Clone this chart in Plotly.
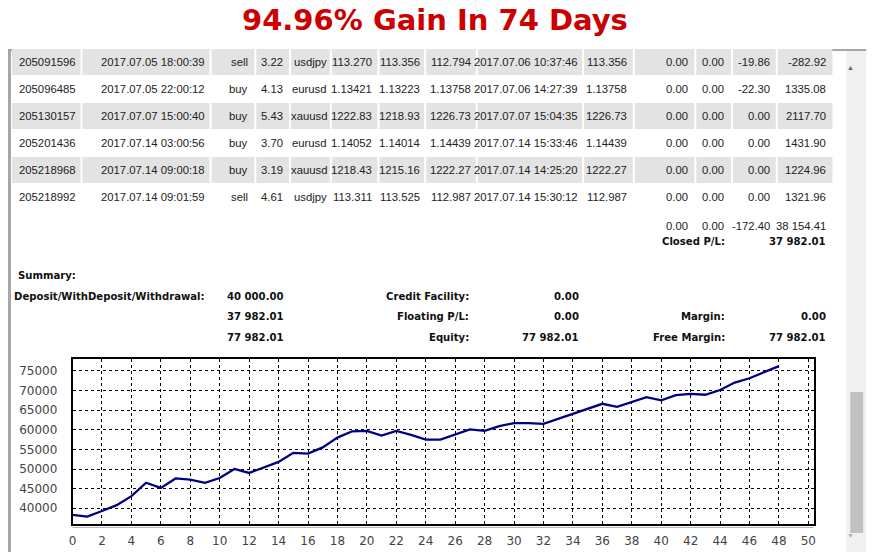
import plotly.graph_objects as go

W, H = 893, 552

# ---- trade table (last rows of the statement) ----
tickets = ["205091596", "205096485", "205130157", "205201436", "205218968", "205218992"]
open_times = ["2017.07.05 18:00:39", "2017.07.05 22:00:12", "2017.07.07 15:00:40",
              "2017.07.14 03:00:56", "2017.07.14 09:00:18", "2017.07.14 09:01:59"]
types = ["sell", "buy", "buy", "buy", "buy", "sell"]
sizes = ["3.22", "4.13", "5.43", "3.70", "3.19", "4.61"]
items = ["usdjpy", "eurusd", "xauusd", "eurusd", "xauusd", "usdjpy"]
prices = ["113.270", "1.13421", "1222.83", "1.14052", "1218.43", "113.311"]
stop_loss = ["113.356", "1.13223", "1218.93", "1.14014", "1215.16", "113.525"]
take_profit = ["112.794", "1.13758", "1226.73", "1.14439", "1222.27", "112.987"]
close_times = ["2017.07.06 10:37:46", "2017.07.06 14:27:39", "2017.07.07 15:04:35",
               "2017.07.14 15:33:46", "2017.07.14 14:25:20", "2017.07.14 15:30:12"]
close_prices = ["113.356", "1.13758", "1226.73", "1.14439", "1222.27", "112.987"]
commissions = ["0.00", "0.00", "0.00", "0.00", "0.00", "0.00"]
taxes = ["0.00", "0.00", "0.00", "0.00", "0.00", "0.00"]
swaps = ["-19.86", "-22.30", "0.00", "0.00", "0.00", "0.00"]
profits = ["-282.92", "1335.08", "2117.70", "1431.90", "1224.96", "1321.96"]

totals = ["0.00", "0.00", "-172.40", "38 154.41"]
closed_pl = "37 982.01"

# ---- summary block ----
summary_rows = [
    ["Deposit/WithDeposit/Withdrawal:", "40 000.00", "Credit Facility:", "0.00", "", ""],
    ["", "37 982.01", "Floating P/L:", "0.00", "Margin:", "0.00"],
    ["", "77 982.01", "Equity:", "77 982.01", "Free Margin:", "77 982.01"],
]

# ---- equity curve ----
equity = [38300, 37900, 39300, 40800, 43100, 46500, 45200, 47600, 47300, 46500,
          47700, 50000, 49000, 50300, 51800, 54100, 53900, 55500, 58000, 59600,
          59700, 58500, 59700, 58700, 57500, 57500, 58800, 60100, 59700, 60900,
          61700, 61700, 61500, 62800, 64100, 65300, 66600, 65800, 67000, 68300,
          67500, 68800, 69100, 68900, 70100, 72000, 73100, 74600, 76200]
trade_no = list(range(len(equity)))


def px(x):
    return x / W


def py(y):
    return 1 - y / H


REG = dict(family="Liberation Sans, Arial, sans-serif", size=11.3, color="#222222")
BOLD = dict(family="DejaVu Sans, Verdana, sans-serif", size=10.1, color="#111111", weight="bold")

annotations = []
shapes = []


def text(x, y, s, anchor="right", font=REG):
    annotations.append(dict(x=px(x), y=py(y), xref="paper", yref="paper", text=s,
                            showarrow=False, xanchor=anchor, yanchor="middle", font=font))


def rect(x0, y0, x1, y1, fill, line=None):
    shapes.append(dict(type="rect", xref="paper", yref="paper", x0=px(x0), x1=px(x1),
                       y0=py(y1), y1=py(y0), fillcolor=fill, layer="below",
                       line=dict(width=0) if line is None else line))


# panel frame + scrollbar
rect(4, 49, 868, 51, "#a6a6a6")
rect(4, 49, 7, 552, "#a6a6a6")
rect(848, 51, 868, 552, "#f0f0f0")
rect(852, 392, 865, 533, "#c1c1c1")
annotations.append(dict(x=px(858), y=py(61), xref="paper", yref="paper", text="▲",
                        showarrow=False, font=dict(size=7, color="#606060")))
annotations.append(dict(x=px(858), y=py(542), xref="paper", yref="paper", text="▼",
                        showarrow=False, font=dict(size=7, color="#b0b0b0")))

# table rows
col_right = [74, 204, 248, 283, 327, 373, 421, 472, 580, 629, 691, 727, 773, 830]
separators = [77, 207, 252, 287, 328, 376, 423, 475, 582, 633, 695, 732, 777]
row_y0, row_h = 62, 27
columns = [tickets, open_times, types, sizes, items, prices, stop_loss, take_profit,
           close_times, close_prices, commissions, taxes, swaps, profits]

for i in range(len(tickets)):
    yc = row_y0 + row_h * i
    if i % 2 == 0:
        rect(8, yc - 13, 834, yc + 13, "#e3e3e3")
        for s in separators:
            rect(s, yc - 13, s + 2, yc + 13, "#ffffff")
    for c, col in enumerate(columns):
        text(col_right[c], yc, col[i])

yt = row_y0 + row_h * len(tickets) + 2
for c, v in zip([691, 727, 773, 830], totals):
    text(c, yt, v)
text(728, yt + 16, "Closed P/L:", font=BOLD)
text(830, yt + 16, closed_pl, font=BOLD)

# summary
text(12, 275, "Summary:", anchor="left", font=BOLD)
sum_right = [204, 284, 470, 581, 728, 830]
for r, row in enumerate(summary_rows):
    yr = 296 + 20.5 * r
    for c, v in enumerate(row):
        if v:
            text(sum_right[c], yr, v, font=BOLD)

# chart underline
shapes.append(dict(type="line", xref="paper", yref="paper", x0=px(69), x1=px(815),
                   y0=py(527.5), y1=py(527.5), line=dict(color="#b5b5b5", width=1)))

title = "94.96% Gain In 74 Days"
annotations.append(dict(x=px(434), y=py(20), xref="paper", yref="paper", text=title,
                        showarrow=False, xanchor="center", yanchor="middle",
                        font=dict(family="DejaVu Sans, Verdana, sans-serif", size=29,
                                  color="#cc0000", weight="bold")))

fig = go.Figure()
fig.add_trace(go.Scatter(x=trade_no, y=equity, mode="lines",
                         line=dict(color="#000080", width=2.3), hoverinfo="x+y"))

tickfont = dict(family="DejaVu Sans, Verdana, sans-serif", size=12, color="#444444")
fig.update_layout(
    width=W, height=H, autosize=False,
    margin=dict(l=0, r=0, t=0, b=0),
    paper_bgcolor="#ffffff", plot_bgcolor="#ffffff",
    showlegend=False,
    xaxis=dict(domain=[px(69), px(815)], range=[0, 50.35], dtick=2, tick0=0,
               showgrid=True, gridcolor="#000000", griddash="dot", gridwidth=1,
               zeroline=False, showline=True, linecolor="#000000", linewidth=1.5,
               mirror=True, ticks="", ticklabelstandoff=5, tickfont=tickfont),
    yaxis=dict(domain=[py(524), py(359)], range=[36000, 78000], dtick=5000, tick0=0,
               tickformat="d",
               showgrid=True, gridcolor="#000000", griddash="dot", gridwidth=1,
               zeroline=False, showline=True, linecolor="#000000", linewidth=1.5,
               mirror=True, ticks="", ticklabelstandoff=11, tickfont=tickfont),
    shapes=shapes,
    annotations=annotations,
)

# the page's default body margin would push the fixed-size figure off the window
fig.write_html("out.html", config={"displayModeBar": False},
               post_script="document.body.style.margin='0';document.body.style.overflow='hidden';")
